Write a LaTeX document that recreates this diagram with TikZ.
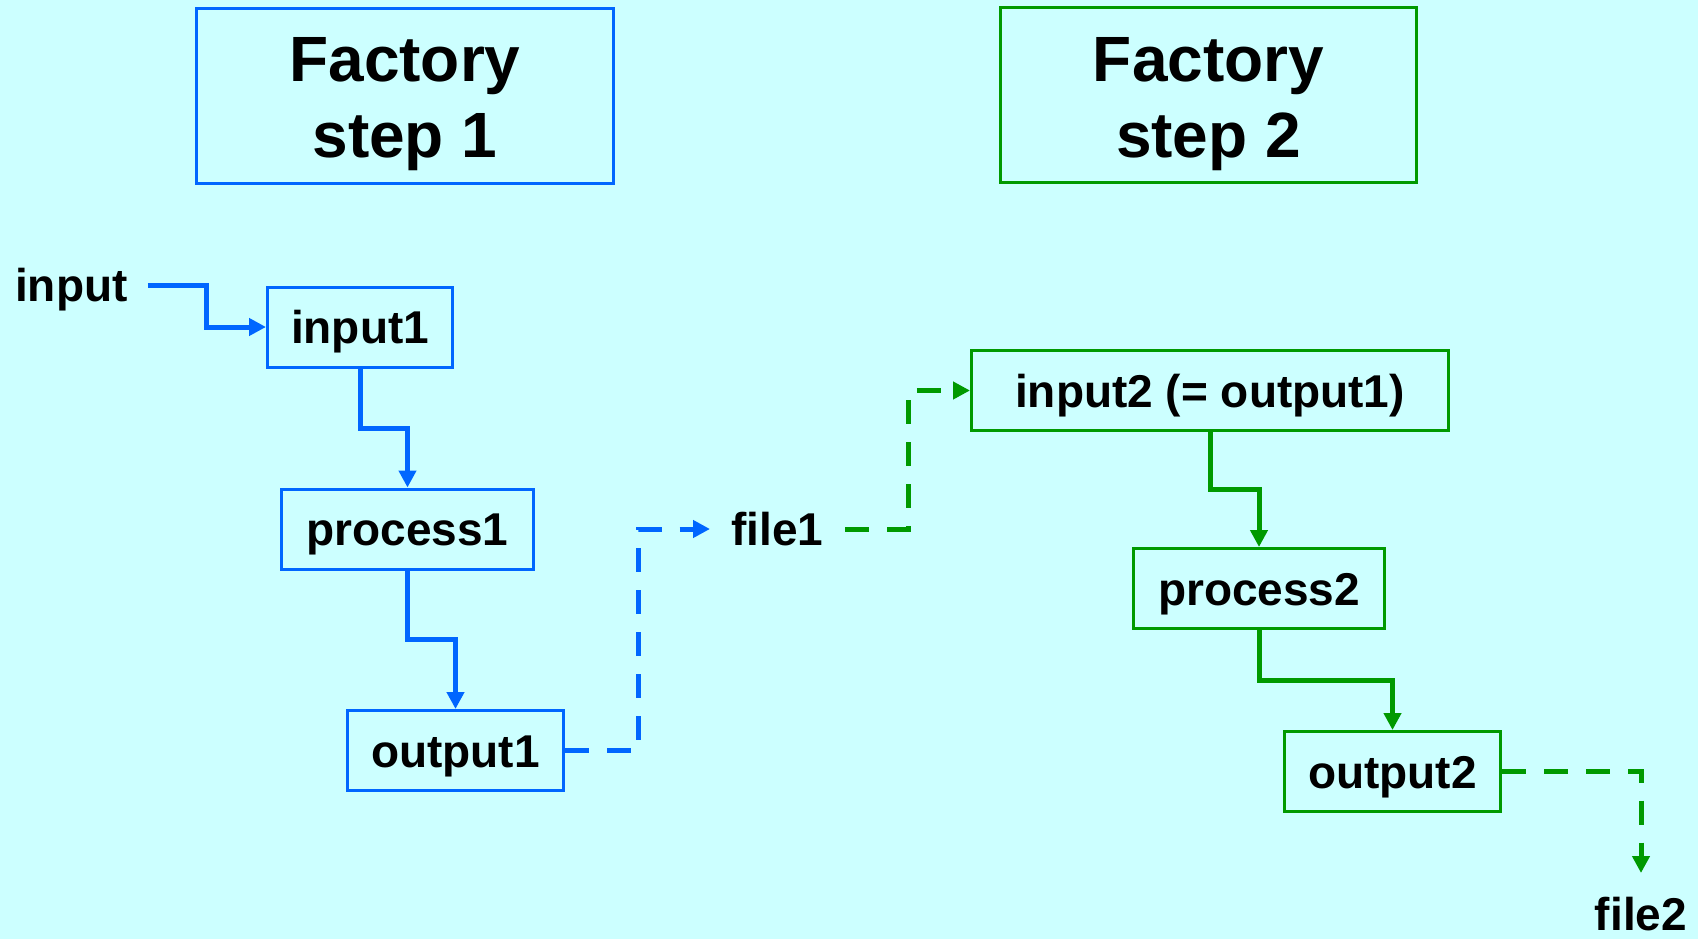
\documentclass[tikz,border=0pt]{standalone}
\usepackage{fontspec}
\setmainfont{Liberation Sans}
\usetikzlibrary{arrows.meta,calc}
\definecolor{bgc}{RGB}{204,255,255}
\definecolor{fblue}{RGB}{0,102,255}
\definecolor{fgreen}{RGB}{0,153,0}
\begin{document}
\begin{tikzpicture}[x=1pt,y=-1pt,
  box/.style={draw, line width=3pt, inner sep=0pt, minimum height=80pt, text height=33pt, text depth=0pt, font=\fontsize{46}{55}\selectfont\bfseries},
  lbl/.style={inner sep=0pt, text height=33pt, text depth=0pt, font=\fontsize{46}{55}\selectfont\bfseries},
  ttl/.style={draw, line width=3pt, inner sep=0pt, align=center, minimum height=175pt, font=\fontsize{64}{76}\selectfont\bfseries},
  conn/.style={line width=5pt, -{Triangle[length=17pt,width=17pt]}},
  dsh/.style={conn, dash pattern=on 24pt off 18pt},
]
\fill[bgc] (0,0) rectangle (1698,939);
\useasboundingbox (0,0) rectangle (1698,939);

\node[ttl, draw=fblue, minimum width=417pt] (t1) at (405,96) {\rule{0pt}{61pt}Factory\\step 1};
\node[ttl, draw=fgreen, minimum width=416pt] (t2) at (1208.5,95.5) {\rule{0pt}{61pt}Factory\\step 2};

\node[box, draw=fblue, minimum width=185pt] (in1) at (360,327) {input1};
\node[box, draw=fblue, minimum width=252pt] (pr1) at (407.5,529) {process1};
\node[box, draw=fblue, minimum width=216pt] (out1) at (455.5,750.5) {output1};
\node[box, draw=fgreen, minimum width=477pt] (in2) at (1210,390.5) {input2 (= output1)};
\node[box, draw=fgreen, minimum width=251pt] (pr2) at (1259,588.5) {process2};
\node[box, draw=fgreen, minimum width=216pt] (out2) at (1392.5,771.5) {output2};

\node[lbl, anchor=west] (in) at (15,285) {input};
\node[lbl, anchor=west] (f1) at (731,529) {file1};
\node[lbl, anchor=north] (f2) at (1641,897) {file2};

\draw[conn, fblue, shorten <=20pt] (in.east) -| ($(in1.west)+(-60,0)$) -- (in1.west);
\draw[conn, fblue] (in1.south) |- ($(in1.south)!0.5!(pr1.north)$) -| (pr1.north);
\draw[conn, fblue] (pr1.south) |- ($(pr1.south)!0.5!(out1.north)$) -| (out1.north);
\draw[dsh, fblue, shorten >=21pt] (out1.east) -| ($(f1.west)+(-93,0)$) -- (f1.west);

\draw[dsh, fgreen, shorten <=22pt] (f1.east) -| ($(in2.west)+(-62,0)$) -- (in2.west);
\draw[conn, fgreen] (in2.south) |- ($(in2.south)!0.5!(pr2.north)$) -| (pr2.north);
\draw[conn, fgreen] (pr2.south) |- ($(pr2.south)!0.5!(out2.north)$) -| (out2.north);
\draw[dsh, fgreen, shorten >=24pt] (out2.east) -| (f2.north);
\end{tikzpicture}
\end{document}
